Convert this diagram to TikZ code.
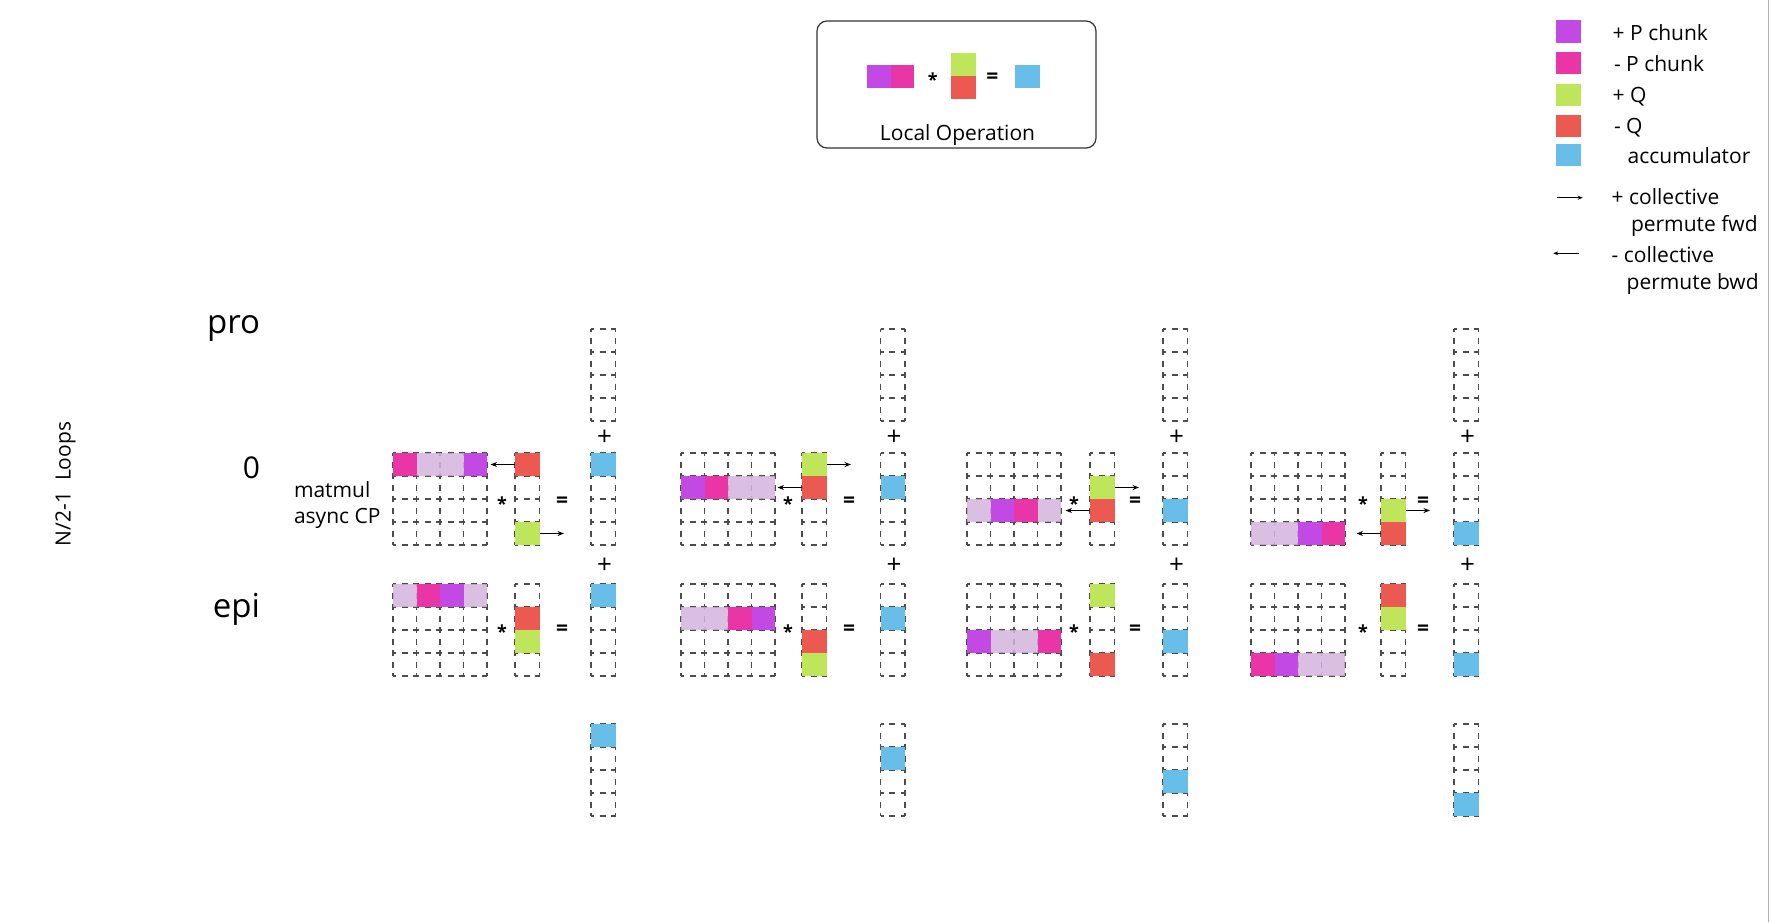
\documentclass[tikz,border=0pt]{standalone}
\usepackage{fontspec}
\setmainfont{Open Sans}
\usepackage{xcolor}
\usetikzlibrary{arrows.meta}

\definecolor{cPplus}{RGB}{195,73,228}
\definecolor{cPminus}{RGB}{233,53,165}
\definecolor{cIdle}{RGB}{212,180,222}
\definecolor{cQplus}{RGB}{191,230,90}
\definecolor{cQminus}{RGB}{235,89,81}
\definecolor{cAcc}{RGB}{103,190,232}

\tikzset{
  gridline/.style={black!70, line width=1.1pt, dash pattern=on 6pt off 5.5pt, dash phase=3pt},
}
% dashed block: x, y, columns, rows, cell width
\newcommand{\dashblock}[5]{%
  \foreach \c in {0,...,#3} {\draw[gridline] ({#1+\c*#5},#2) -- ++(0,{#4*23});}
  \foreach \r in {0,...,#4} {\draw[gridline] (#1,{#2+\r*23}) -- ++({#3*#5},0);}
}

\begin{document}
\begin{tikzpicture}[
  x=1pt, y=-1pt,
  every node/.style={inner sep=0pt, outer sep=0pt, font=\fontsize{21}{25}\selectfont},
  mcell/.style={minimum width=23.5pt, minimum height=23pt, anchor=north west},
  vcell/.style={minimum width=24.5pt, minimum height=23pt, anchor=north west},
  swatch/.style={minimum width=25pt, minimum height=22.5pt, anchor=north west},
  pplus/.style={fill=cPplus}, pminus/.style={fill=cPminus},
  idle/.style={fill=cIdle, fill opacity=0.85},
  qplus/.style={fill=cQplus}, qminus/.style={fill=cQminus},
  acc/.style={fill=cAcc},
  cparrow/.style={-{Stealth[length=6.5pt,width=5pt]}, line width=1.2pt},
  star/.style={font=\fontsize{18}{18}\selectfont\bfseries},
  eqsign/.style={font=\fontsize{21}{21}\selectfont\bfseries},
  plussign/.style={font=\fontsize{26}{26}\selectfont},
  rowlabel/.style={anchor=base east, font=\fontsize{33}{33}\selectfont},
  keytext/.style={anchor=base west}
]
\useasboundingbox (0,0) rectangle (1772,922);
\draw[gray!60, line width=1.5pt] (1768.5,0) -- (1768.5,922);

% dashed frames
\foreach \px/\qx/\ax in {393/515/591, 681/802/880.5, 967/1090/1163, 1251/1381/1454} {
  \dashblock{\px}{453}{4}{4}{23.5}
  \dashblock{\px}{584}{4}{4}{23.5}
  \dashblock{\qx}{453}{1}{4}{24.5}
  \dashblock{\qx}{584}{1}{4}{24.5}
  \foreach \ty in {329,453,584,724} {\dashblock{\ax}{\ty}{1}{4}{24.5}}
}

% row labels
\node[rowlabel] (pro) at (260,333) {pro};
\node[rowlabel, font=\fontsize{30}{30}\selectfont] (loop0) at (260,478) {0};
\node[rowlabel] (epi) at (260,617) {epi};
\node[anchor=west, align=left, font=\fontsize{21}{26}\selectfont] (mm) at (294,505.5) {matmul\\async CP};
\node[rotate=90] (loops) at (65.5,484) {N/2-1\ \ Loops};

% local operation
\node[draw=black!80, line width=1.2pt, rounded corners=10pt, minimum width=279pt, minimum height=127pt] (opbox) at (956.5,84.5) {};
\node[mcell, pplus]  (opp1) at (867,65) {};
\node[mcell, pminus] (opp2) at (890.5,65) {};
\node[vcell, qplus]  (opq1) at (951,53) {};
\node[vcell, qminus] (opq2) at (951,76) {};
\node[vcell, acc]    (opa)  at (1015,65) {};
\node[star]   (opstar) at (932.7,80) {*};
\node[eqsign] (opeq)   at (992.3,78) {=};
\node[anchor=base] (optext) at (957.5,140) {Local Operation};

% legend
\node[swatch, pplus]  (kpp)  at (1556,20) {};
\node[swatch, pminus] (kpm)  at (1556,51.5) {};
\node[swatch, qplus]  (kqp)  at (1556,83.5) {};
\node[swatch, qminus] (kqm)  at (1556,114.5) {};
\node[swatch, acc]    (kacc) at (1556,143.5) {};
\node[keytext] (tpp)  at (1612.7,40.8) {+ P chunk};
\node[keytext] (tpm)  at (1614,71.5) {- P chunk};
\node[keytext] (tqp)  at (1612.7,102.5) {+ Q};
\node[keytext] (tqm)  at (1614,133) {- Q};
\node[keytext] (tacc) at (1627.7,163.5) {accumulator};
\coordinate (fwdA) at (1556.7,197.7);
\coordinate (fwdB) at (1582.7,197.7);
\draw[-{Stealth[length=5pt,width=4pt]}, line width=1pt] (fwdA) -- (fwdB);
\node[keytext] (tfwd1) at (1611.7,204) {+ collective};
\node[keytext] (tfwd2) at (1631,231) {permute fwd};
\coordinate (bwdA) at (1579.3,253.3);
\coordinate (bwdB) at (1553.3,253.3);
\draw[-{Stealth[length=5pt,width=4pt]}, line width=1pt] (bwdA) -- (bwdB);
\node[keytext] (tbwd1) at (1611.7,262) {- collective};
\node[keytext] (tbwd2) at (1626.7,289) {permute bwd};

% device 1
\node[mcell, pminus] (d1p1)  at (393,453) {};
\node[mcell, idle]   (d1p2)  at (416.5,453) {};
\node[mcell, idle]   (d1p3)  at (440,453) {};
\node[mcell, pplus]  (d1p4)  at (463.5,453) {};
\node[vcell, qminus] (d1qm)  at (515,453) {};
\node[vcell, qplus]  (d1qp)  at (515,522) {};
\node[vcell, acc]    (d1a)   at (591,453) {};
\node[mcell, idle]   (d1e1)  at (393,584) {};
\node[mcell, pminus] (d1e2)  at (416.5,584) {};
\node[mcell, pplus]  (d1e3)  at (440,584) {};
\node[mcell, idle]   (d1e4)  at (463.5,584) {};
\node[vcell, qminus] (d1eqm) at (515,607) {};
\node[vcell, qplus]  (d1eqp) at (515,630) {};
\node[vcell, acc]    (d1ea)  at (591,584) {};
\node[vcell, acc]    (d1z)   at (591,724) {};

% device 2
\node[mcell, pplus]  (d2p1)  at (681,476) {};
\node[mcell, pminus] (d2p2)  at (704.5,476) {};
\node[mcell, idle]   (d2p3)  at (728,476) {};
\node[mcell, idle]   (d2p4)  at (751.5,476) {};
\node[vcell, qplus]  (d2qp)  at (802,453) {};
\node[vcell, qminus] (d2qm)  at (802,476) {};
\node[vcell, acc]    (d2a)   at (880.5,476) {};
\node[mcell, idle]   (d2e1)  at (681,607) {};
\node[mcell, idle]   (d2e2)  at (704.5,607) {};
\node[mcell, pminus] (d2e3)  at (728,607) {};
\node[mcell, pplus]  (d2e4)  at (751.5,607) {};
\node[vcell, qminus] (d2eqm) at (802,630) {};
\node[vcell, qplus]  (d2eqp) at (802,653) {};
\node[vcell, acc]    (d2ea)  at (880.5,607) {};
\node[vcell, acc]    (d2z)   at (880.5,747) {};

% device 3
\node[mcell, idle]   (d3p1)  at (967,499) {};
\node[mcell, pplus]  (d3p2)  at (990.5,499) {};
\node[mcell, pminus] (d3p3)  at (1014,499) {};
\node[mcell, idle]   (d3p4)  at (1037.5,499) {};
\node[vcell, qplus]  (d3qp)  at (1090,476) {};
\node[vcell, qminus] (d3qm)  at (1090,499) {};
\node[vcell, acc]    (d3a)   at (1163,499) {};
\node[mcell, pplus]  (d3e1)  at (967,630) {};
\node[mcell, idle]   (d3e2)  at (990.5,630) {};
\node[mcell, idle]   (d3e3)  at (1014,630) {};
\node[mcell, pminus] (d3e4)  at (1037.5,630) {};
\node[vcell, qplus]  (d3eqp) at (1090,584) {};
\node[vcell, qminus] (d3eqm) at (1090,653) {};
\node[vcell, acc]    (d3ea)  at (1163,630) {};
\node[vcell, acc]    (d3z)   at (1163,770) {};

% device 4
\node[mcell, idle]   (d4p1)  at (1251,522) {};
\node[mcell, idle]   (d4p2)  at (1274.5,522) {};
\node[mcell, pplus]  (d4p3)  at (1298,522) {};
\node[mcell, pminus] (d4p4)  at (1321.5,522) {};
\node[vcell, qplus]  (d4qp)  at (1381,499) {};
\node[vcell, qminus] (d4qm)  at (1381,522) {};
\node[vcell, acc]    (d4a)   at (1454,522) {};
\node[mcell, pminus] (d4e1)  at (1251,653) {};
\node[mcell, pplus]  (d4e2)  at (1274.5,653) {};
\node[mcell, idle]   (d4e3)  at (1298,653) {};
\node[mcell, idle]   (d4e4)  at (1321.5,653) {};
\node[vcell, qminus] (d4eqm) at (1381,584) {};
\node[vcell, qplus]  (d4eqp) at (1381,607) {};
\node[vcell, acc]    (d4ea)  at (1454,653) {};
\node[vcell, acc]    (d4z)   at (1454,793) {};

% collective permutes
\foreach \n in {d1,d2,d3,d4} {
  \path (\n qm.west) ++(-24.5,0) coordinate (\n bwd);
  \path (\n qp.east) ++(24.5,0) coordinate (\n fwd);
  \draw[cparrow] (\n qm.west) -- (\n bwd);
  \draw[cparrow] (\n qp.east) -- (\n fwd);
}

% * = +
\foreach \sx/\ex/\ax [count=\k] in {502/562/591, 788/849/880.5, 1074/1135/1163, 1363/1423/1454} {
  \node[star]   (st\k)  at (\sx,504) {*};
  \node[star]   (est\k) at (\sx,632) {*};
  \node[eqsign] (eq\k)  at (\ex,502) {=};
  \node[eqsign] (eeq\k) at (\ex,630) {=};
  \node[plussign] (pl\k)  at (\ax+13.5,438) {+};
  \node[plussign] (epl\k) at (\ax+13.5,566) {+};
}
\end{tikzpicture}
\end{document}
